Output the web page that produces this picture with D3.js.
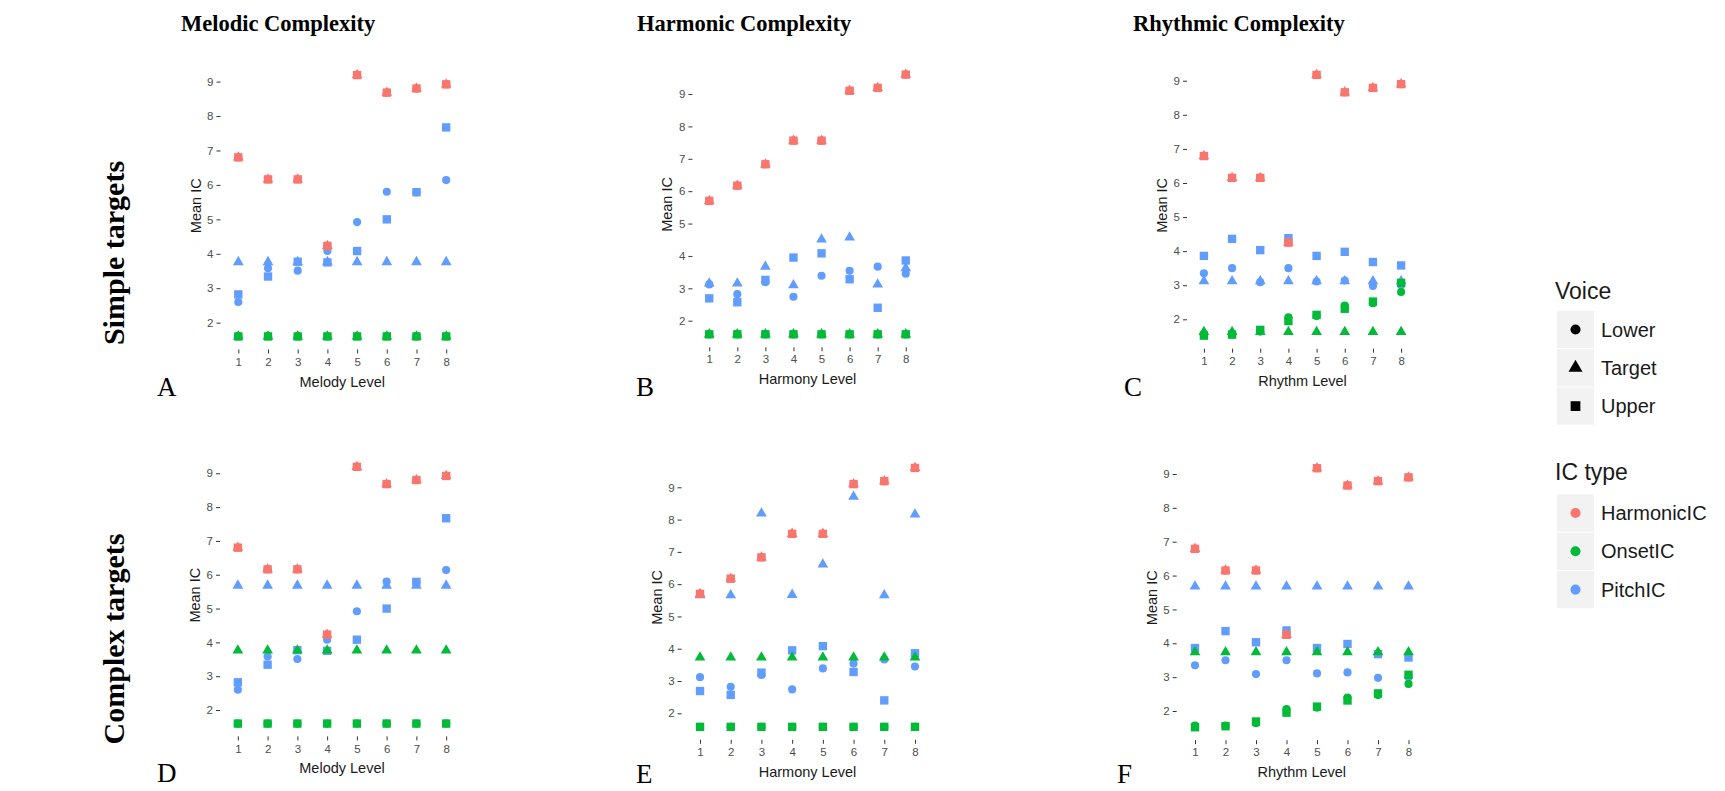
<!DOCTYPE html>
<html>
<head>
<meta charset="utf-8">
<script src="https://cdn.jsdelivr.net/npm/d3@7"></script>
<style>
  body { margin: 0; background: #fff; }
</style>
</head>
<body>
<div class="canvas"></div>
<script>
// categories / tick labels
const levels = [1, 2, 3, 4, 5, 6, 7, 8];
const yTicks = [2, 3, 4, 5, 6, 7, 8, 9];
const voices = ["Lower", "Target", "Upper"];
const icTypes = ["HarmonicIC", "OnsetIC", "PitchIC"];

// melodic complexity (A simple, D complex)
const melHarmonic = [6.80, 6.16, 6.16, 4.23, 9.19, 8.68, 8.80, 8.92];
const melPitchLower = [2.60, 3.58, 3.51, 4.08, 4.92, 5.80, 5.78, 6.14];
const melPitchUpper = [2.82, 3.34, 3.77, 3.75, 4.08, 5.00, 5.79, 7.67];
const melPitchTargetSimple = [3.76, 3.76, 3.76, 3.76, 3.76, 3.76, 3.76, 3.76];
const melPitchTargetComplex = [5.68, 5.68, 5.68, 5.68, 5.68, 5.68, 5.68, 5.68];
const melOnsetLower = [1.60, 1.60, 1.60, 1.60, 1.60, 1.60, 1.60, 1.60];
const melOnsetUpper = [1.60, 1.60, 1.60, 1.60, 1.60, 1.60, 1.60, 1.60];
const melOnsetTargetSimple = [1.60, 1.60, 1.60, 1.60, 1.60, 1.60, 1.60, 1.60];
const melOnsetTargetComplex = [3.76, 3.76, 3.76, 3.76, 3.76, 3.76, 3.76, 3.76];

// harmonic complexity (B simple, E complex)
const harHarmonic = [5.70, 6.17, 6.83, 7.56, 7.56, 9.10, 9.19, 9.60];
const harPitchLower = [3.12, 2.82, 3.19, 2.74, 3.39, 3.54, 3.67, 3.45];
const harPitchUpper = [2.69, 2.57, 3.26, 3.95, 4.08, 3.28, 2.40, 3.86];
const harPitchTargetSimple = [3.15, 3.15, 3.67, 3.10, 4.51, 4.57, 3.12, 3.62];
const harPitchTargetComplex = [5.66, 5.66, 8.19, 5.67, 6.61, 8.71, 5.66, 8.16];
const harOnsetLower = [1.58, 1.58, 1.58, 1.58, 1.58, 1.58, 1.58, 1.58];
const harOnsetUpper = [1.58, 1.58, 1.58, 1.58, 1.58, 1.58, 1.58, 1.58];
const harOnsetTargetSimple = [1.58, 1.58, 1.58, 1.58, 1.58, 1.58, 1.58, 1.58];
const harOnsetTargetComplex = [3.73, 3.73, 3.73, 3.73, 3.73, 3.73, 3.73, 3.73];

// rhythmic complexity (C simple, F complex)
const rhyHarmonic = [6.79, 6.15, 6.15, 4.25, 9.17, 8.66, 8.79, 8.90];
const rhyPitchLower = [3.35, 3.50, 3.09, 3.50, 3.11, 3.14, 2.98, 3.00];
const rhyPitchUpper = [3.86, 4.36, 4.03, 4.38, 3.86, 3.98, 3.68, 3.58];
const rhyPitchTargetSimple = [3.12, 3.12, 3.12, 3.12, 3.12, 3.12, 3.12, 3.12];
const rhyPitchTargetComplex = [5.68, 5.68, 5.68, 5.68, 5.68, 5.68, 5.68, 5.68];
const rhyOnsetLower = [1.57, 1.57, 1.64, 2.06, 2.10, 2.40, 2.47, 2.80];
const rhyOnsetUpper = [1.52, 1.55, 1.69, 1.95, 2.13, 2.31, 2.52, 3.07];
const rhyOnsetTargetSimple = [1.63, 1.63, 1.63, 1.63, 1.63, 1.63, 1.63, 1.63];
const rhyOnsetTargetComplex = [3.74, 3.74, 3.74, 3.74, 3.74, 3.74, 3.74, 3.74];

const colour = d3.scaleOrdinal().domain(icTypes).range(["#F8766D", "#00BA38", "#619CFF"]);
const shape = d3.scaleOrdinal().domain(voices).range([d3.symbolCircle, d3.symbolTriangle, d3.symbolSquare]);
const shapeSize = {Lower: 52, Target: 50, Upper: 70};

// series list for one panel, drawn pitch -> onset -> harmonic
function makeSeries(harm, pLow, pTar, pUp, oLow, oTar, oUp) {
  return [
    {type: "PitchIC", voice: "Lower", values: pLow},
    {type: "PitchIC", voice: "Target", values: pTar},
    {type: "PitchIC", voice: "Upper", values: pUp},
    {type: "OnsetIC", voice: "Lower", values: oLow},
    {type: "OnsetIC", voice: "Target", values: oTar},
    {type: "OnsetIC", voice: "Upper", values: oUp},
    {type: "HarmonicIC", voice: "Lower", values: harm},
    {type: "HarmonicIC", voice: "Target", values: harm},
    {type: "HarmonicIC", voice: "Upper", values: harm}
  ];
}

const panels = [
  {letter: "A", lx: 157, ly: 396, xLabel: "Melody Level", left: 220.5, right: 464, top: 62, bottom: 349.5,
   series: makeSeries(melHarmonic, melPitchLower, melPitchTargetSimple, melPitchUpper, melOnsetLower, melOnsetTargetSimple, melOnsetUpper)},
  {letter: "B", lx: 636, ly: 396, xLabel: "Harmony Level", left: 692.4, right: 922.6, top: 61.6, bottom: 347.3,
   series: makeSeries(harHarmonic, harPitchLower, harPitchTargetSimple, harPitchUpper, harOnsetLower, harOnsetTargetSimple, harOnsetUpper)},
  {letter: "C", lx: 1124, ly: 396, xLabel: "Rhythm Level", left: 1187, right: 1418, top: 61.9, bottom: 348.7,
   series: makeSeries(rhyHarmonic, rhyPitchLower, rhyPitchTargetSimple, rhyPitchUpper, rhyOnsetLower, rhyOnsetTargetSimple, rhyOnsetUpper)},
  {letter: "D", lx: 157, ly: 782, xLabel: "Melody Level", left: 220, right: 464, top: 454, bottom: 736.4,
   series: makeSeries(melHarmonic, melPitchLower, melPitchTargetComplex, melPitchUpper, melOnsetLower, melOnsetTargetComplex, melOnsetUpper)},
  {letter: "E", lx: 636, ly: 783, xLabel: "Harmony Level", left: 681.6, right: 933.4, top: 455, bottom: 739.8,
   series: makeSeries(harHarmonic, harPitchLower, harPitchTargetComplex, harPitchUpper, harOnsetLower, harOnsetTargetComplex, harOnsetUpper)},
  {letter: "F", lx: 1117, ly: 783, xLabel: "Rhythm Level", left: 1176.7, right: 1426.8, top: 455.3, bottom: 740.2,
   series: makeSeries(rhyHarmonic, rhyPitchLower, rhyPitchTargetComplex, rhyPitchUpper, rhyOnsetLower, rhyOnsetTargetComplex, rhyOnsetUpper)}
];

const svg = d3.select(".canvas")
  .append("svg")
  .attr("width", 1725)
  .attr("height", 791)
  .style("font-family", "'Liberation Sans', Arial, sans-serif");

svg.append("rect").attr("width", 1725).attr("height", 791).attr("fill", "#fff");

// column titles and row labels
const serif = "'Liberation Serif', 'Times New Roman', serif";
[["Melodic Complexity", 181], ["Harmonic Complexity", 637], ["Rhythmic Complexity", 1133]].forEach(([t, x]) => {
  svg.append("text").attr("x", x).attr("y", 31)
     .style("font-family", serif).style("font-weight", "bold").style("font-size", "22.5px")
     .text(t);
});
[["Simple targets", 253], ["Complex targets", 639]].forEach(([t, y]) => {
  svg.append("text")
     .attr("transform", `translate(113,${y}) rotate(-90)`)
     .attr("text-anchor", "middle").attr("dominant-baseline", "central")
     .style("font-family", serif).style("font-weight", "bold").style("font-size", "30px")
     .text(t);
});

panels.forEach(p => {
  const x = d3.scalePoint().domain(levels).range([p.left, p.right]).padding(0.6);
  const all = p.series.flatMap(s => s.values);
  const [lo, hi] = d3.extent(all);
  const pad = (hi - lo) * 0.05;
  const y = d3.scaleLinear().domain([lo - pad, hi + pad]).range([p.bottom, p.top]);

  const g = svg.append("g");

  // axes
  const yAxis = g.append("g")
    .attr("transform", `translate(${p.left},0)`)
    .call(d3.axisLeft(y).tickValues(yTicks).tickSize(4).tickPadding(3));
  const xAxis = g.append("g")
    .attr("transform", `translate(0,${p.bottom})`)
    .call(d3.axisBottom(x).tickSize(4).tickPadding(4));
  [yAxis, xAxis].forEach(a => {
    a.select(".domain").remove();
    a.selectAll(".tick line").attr("stroke", "#333");
    a.selectAll(".tick text").attr("fill", "#4D4D4D").style("font-size", "11.5px")
     .style("font-family", "'Liberation Sans', Arial, sans-serif");
  });

  // axis titles
  g.append("text")
    .attr("x", (p.left + p.right) / 2).attr("y", p.bottom + 32)
    .attr("text-anchor", "middle").attr("dominant-baseline", "central")
    .style("font-size", "14.5px").attr("fill", "#1a1a1a")
    .text(p.xLabel);
  g.append("text")
    .attr("transform", `translate(${p.left - 25},${(p.top + p.bottom) / 2}) rotate(-90)`)
    .attr("text-anchor", "middle").attr("dominant-baseline", "central")
    .style("font-size", "14.5px").attr("fill", "#1a1a1a")
    .text("Mean IC");

  // points
  p.series.forEach(s => {
    g.append("g").selectAll("path")
      .data(s.values)
      .join("path")
      .attr("transform", (d, i) => `translate(${x(levels[i])},${y(d)})`)
      .attr("d", d3.symbol().type(shape(s.voice)).size(shapeSize[s.voice]))
      .attr("fill", colour(s.type));
  });

  // panel letter
  svg.append("text").attr("x", p.lx).attr("y", p.ly)
    .style("font-family", serif).style("font-size", "27px")
    .text(p.letter);
});

// legends
const legendX = 1557, keyW = 37, keyH = 38.3;
function legend(title, titleY, firstKeyY, items, drawKey) {
  svg.append("text").attr("x", 1555).attr("y", titleY)
     .style("font-size", "23px").attr("fill", "#1a1a1a").text(title);
  items.forEach((it, i) => {
    const cy = firstKeyY + i * keyH;
    svg.append("rect")
      .attr("x", legendX).attr("y", cy - keyH / 2 + 0.5)
      .attr("width", keyW).attr("height", keyH - 1)
      .attr("fill", "#F2F2F2");
    drawKey(it, legendX + keyW / 2, cy);
    svg.append("text").attr("x", legendX + keyW + 7).attr("y", cy)
      .attr("dominant-baseline", "central")
      .style("font-size", "20px").attr("fill", "#1a1a1a").text(it);
  });
}
legend("Voice", 299, 329.5, voices, (v, cx, cy) => {
  svg.append("path").attr("transform", `translate(${cx},${cy})`)
    .attr("d", d3.symbol().type(shape(v)).size(v === "Target" ? 85 : v === "Upper" ? 95 : 80))
    .attr("fill", "#000");
});
legend("IC type", 480, 513, icTypes, (t, cx, cy) => {
  svg.append("path").attr("transform", `translate(${cx},${cy})`)
    .attr("d", d3.symbol().type(d3.symbolCircle).size(80))
    .attr("fill", colour(t));
});
</script>
</body>
</html>
